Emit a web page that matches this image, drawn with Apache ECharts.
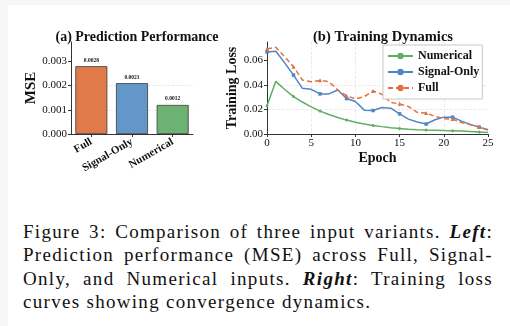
<!DOCTYPE html>
<html>
<head>
<meta charset="utf-8">
<script src="https://cdn.jsdelivr.net/npm/echarts@6/dist/echarts.min.js"></script>
<style>
  html, body { margin: 0; padding: 0; background: #f7f7f7; }
  #page { position: absolute; left: 8px; top: 5px; width: 502px; height: 321px; background: #fff; }
  #chart { position: absolute; left: -8px; top: -5px; width: 510px; height: 190px; }
  #caption {
    position: absolute; left: 15px; top: 215px; width: 470px;
    font-family: "Liberation Serif", "DejaVu Serif", serif; font-size: 19px; line-height: 23.3px;
    letter-spacing: 1.3px; color: #111;
  }
  #caption .j { display: block; text-align: justify; text-align-last: justify; white-space: nowrap; }
  #caption .l { display: block; }
</style>
</head>
<body>
<div id="page">
  <div id="chart"></div>
  <div id="caption"><span class="j">Figure 3: Comparison of three input variants. <b><i>Left</i></b>:</span><span class="j">Prediction performance (MSE) across Full, Signal-</span><span class="j">Only, and Numerical inputs. <b><i>Right</i></b>: Training loss</span><span class="l">curves showing convergence dynamics.</span></div>
</div>
<script>
  // 左图：预测性能
  const variants = ["Full", "Signal-Only", "Numerical"];
  const mseValues = [0.0028, 0.0021, 0.0012];
  const barColors = ["#e07a4a", "#6497c9", "#6cb273"];

  // 右图：训练损失
  const epochs = [0,1,2,3,4,5,6,7,8,9,10,11,12,13,14,15,16,17,18,19,20,21,22,23,24,25];
  const lossNumerical = [0.0229,0.0428,0.0362,0.0304,0.0260,0.0220,0.0186,0.0158,0.0134,0.0113,0.0096,0.0082,0.0070,0.0060,0.0051,0.0044,0.0039,0.0035,0.0032,0.0030,0.0028,0.0027,0.0024,0.0020,0.0016,0.0013];
  const lossSignal = [0.0667,0.0673,0.0578,0.0479,0.0371,0.0363,0.0326,0.0326,0.0358,0.0288,0.0264,0.0194,0.0191,0.0215,0.0210,0.0164,0.0121,0.0097,0.0081,0.0116,0.0137,0.0137,0.0105,0.0078,0.0056,0.0032];
  const lossFull = [0.0691,0.0705,0.0627,0.0546,0.0439,0.0425,0.0436,0.0425,0.0358,0.0310,0.0285,0.0304,0.0350,0.0323,0.0256,0.0245,0.0223,0.0175,0.0170,0.0143,0.0124,0.0121,0.0094,0.0075,0.0056,0.0035];
  const mseTicks = [0, 0.001, 0.002, 0.003];
  const lossTicks = [0, 0.02, 0.04, 0.06];

  const serif = "Liberation Serif";
  const axisColor = "#333";
  const gridLine = { show: true, showMaxLine: false, lineStyle: { color: "#e4e4e4", type: "dashed", width: 0.8 } };

  // 每隔3个点画一个标记
  const markEvery = (sym) => (value, params) => (params.dataIndex % 3 === 0 ? sym : "none");

  const chart = echarts.init(document.getElementById("chart"));
  chart.setOption({
    animation: false,
    textStyle: { fontFamily: serif },
    title: [
      { text: "(a) Prediction Performance", left: 132, top: 25, textAlign: "center",
        textStyle: { fontFamily: serif, fontSize: 14, fontWeight: "bold", color: "#111" } },
      { text: "(b) Training Dynamics", left: 378, top: 25, textAlign: "center",
        textStyle: { fontFamily: serif, fontSize: 14.5, fontWeight: "bold", color: "#111" } }
    ],
    grid: [
      { left: 71, top: 42, width: 122, height: 92 },
      { left: 267, top: 42, width: 221, height: 92 }
    ],
    legend: {
      top: 45, left: 383, orient: "vertical", itemGap: 4,
      itemWidth: 25, itemHeight: 8,
      padding: [5, 3, 5, 4],
      backgroundColor: "#fff", borderColor: "#c8c8c8", borderWidth: 1,
      textStyle: { fontFamily: serif, fontSize: 12, fontWeight: "bold", color: "#111" },
      data: ["Numerical", "Signal-Only", "Full"]
    },
    xAxis: [
      {
        gridIndex: 0, type: "category", data: variants,
        axisLine: { lineStyle: { color: axisColor, width: 1 } },
        axisTick: { show: true, alignWithLabel: true, length: 3, lineStyle: { color: axisColor } },
        axisLabel: { rotate: 30, margin: 7, fontFamily: serif, fontSize: 11, fontWeight: "bold", color: "#111" }
      },
      {
        gridIndex: 1, type: "value", min: 0, max: 25, interval: 5,
        name: "Epoch", nameLocation: "middle", nameGap: 17,
        nameTextStyle: { fontFamily: serif, fontSize: 14, fontWeight: "bold", color: "#111" },
        axisLine: { lineStyle: { color: axisColor, width: 1 } },
        axisTick: { show: true, length: 3, lineStyle: { color: axisColor } },
        axisLabel: { margin: 4, fontFamily: serif, fontSize: 11, color: "#111" },
        splitLine: gridLine
      }
    ],
    yAxis: [
      {
        gridIndex: 0, type: "value", min: 0, max: 0.0038,
        name: "MSE", nameLocation: "middle", nameGap: 32,
        nameTextStyle: { fontFamily: serif, fontSize: 15, fontWeight: "bold", color: "#111" },
        axisLine: { show: true, lineStyle: { color: axisColor, width: 1 } },
        axisTick: { show: true, length: 3, customValues: mseTicks, lineStyle: { color: axisColor } },
        axisLabel: { margin: 4, customValues: mseTicks, fontFamily: serif, fontSize: 11, color: "#111",
          formatter: (v) => v.toFixed(3) },
        splitLine: gridLine
      },
      {
        gridIndex: 1, type: "value", min: 0, max: 0.0748,
        name: "Training Loss", nameLocation: "middle", nameGap: 26,
        nameTextStyle: { fontFamily: serif, fontSize: 14, fontWeight: "bold", color: "#111" },
        axisLine: { show: true, lineStyle: { color: axisColor, width: 1 } },
        axisTick: { show: true, length: 3, customValues: lossTicks, lineStyle: { color: axisColor } },
        axisLabel: { margin: 4, customValues: lossTicks, fontFamily: serif, fontSize: 11, color: "#111",
          formatter: (v) => v.toFixed(2) },
        splitLine: gridLine
      }
    ],
    series: [
      {
        type: "bar", xAxisIndex: 0, yAxisIndex: 0, barWidth: 32,
        data: mseValues.map((v, i) => ({
          value: v,
          itemStyle: { color: barColors[i], borderColor: "#3a3a3a", borderWidth: 0.8 }
        })),
        label: { show: true, position: "top", distance: 3, fontFamily: serif, fontSize: 5.5,
          fontWeight: "bold", color: "#111", formatter: (p) => p.value.toFixed(4) }
      },
      {
        name: "Numerical", type: "line", xAxisIndex: 1, yAxisIndex: 1,
        data: epochs.map((e, i) => [e, lossNumerical[i]]),
        color: "#5fae62",
        lineStyle: { width: 1.5, color: "#5fae62" },
        symbol: markEvery("circle"), symbolSize: 3,
        itemStyle: { color: "#5fae62" }
      },
      {
        name: "Signal-Only", type: "line", xAxisIndex: 1, yAxisIndex: 1,
        data: epochs.map((e, i) => [e, lossSignal[i]]),
        color: "#4f86c6",
        lineStyle: { width: 1.5, color: "#4f86c6" },
        symbol: markEvery("rect"), symbolSize: 3.5,
        itemStyle: { color: "#4f86c6" }
      },
      {
        name: "Full", type: "line", xAxisIndex: 1, yAxisIndex: 1,
        data: epochs.map((e, i) => [e, lossFull[i]]),
        color: "#e4703f",
        lineStyle: { width: 1.5, color: "#e4703f", type: [5, 3] },
        symbol: markEvery("triangle"), symbolSize: 4,
        itemStyle: { color: "#e4703f" }
      }
    ]
  });
</script>
</body>
</html>
